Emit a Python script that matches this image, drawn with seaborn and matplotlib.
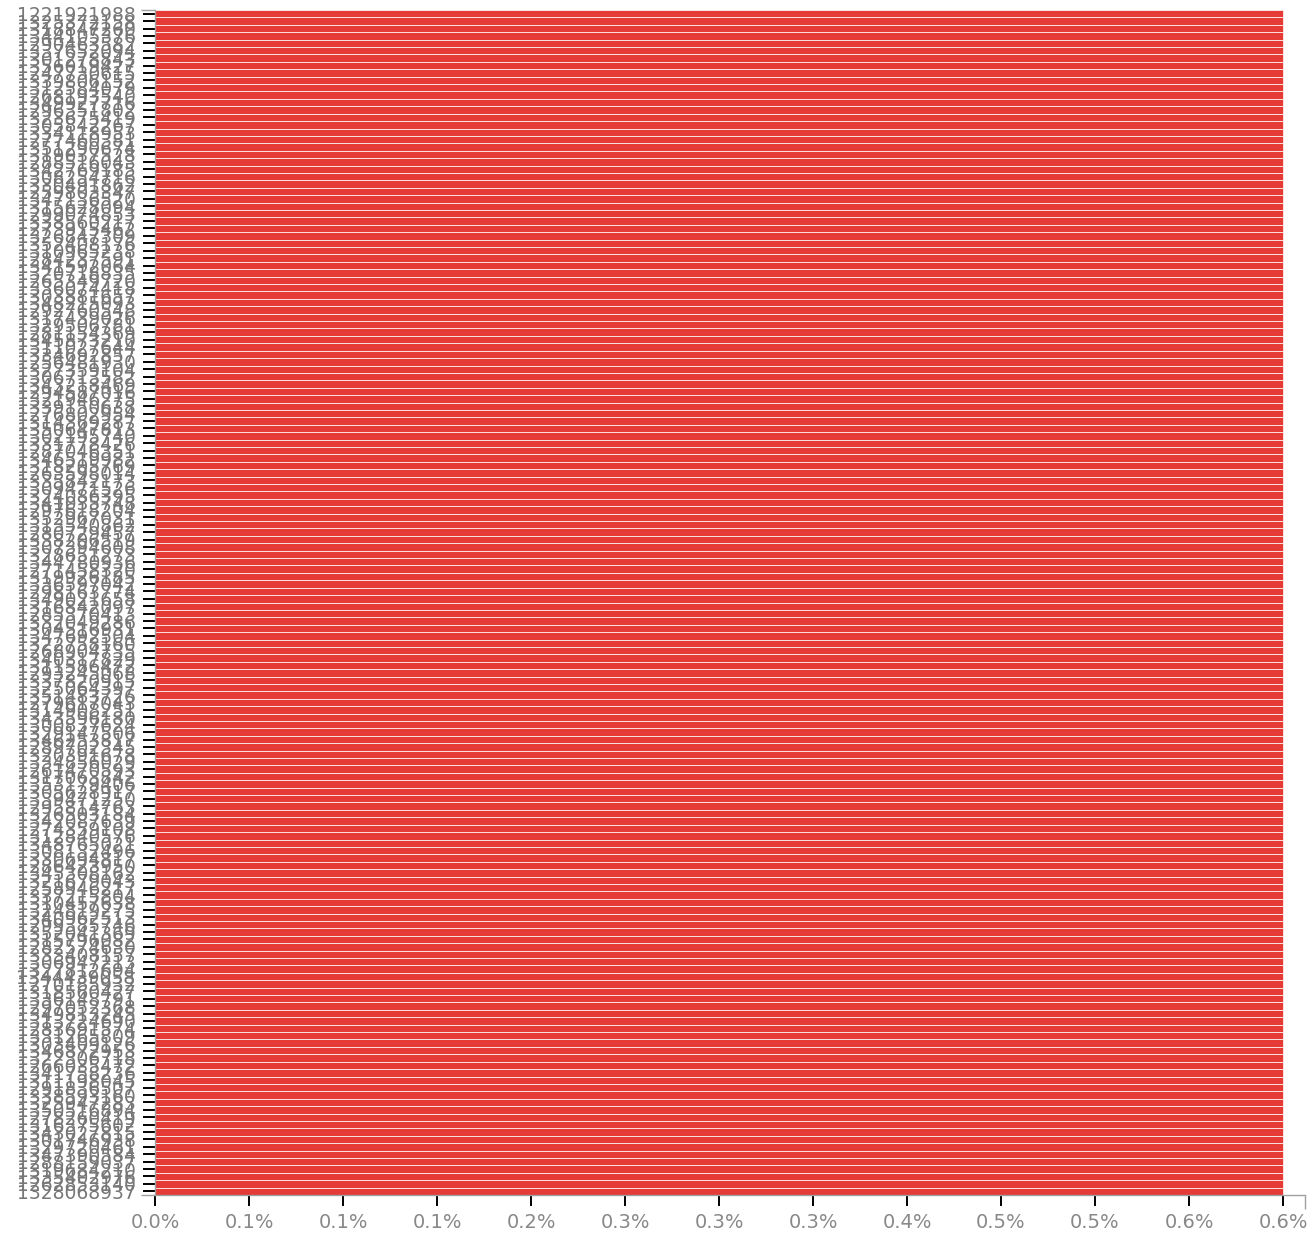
import matplotlib
matplotlib.use('Agg')
import matplotlib.pyplot as plt
import seaborn as sns
import pandas as pd

# ids on the y axis, top to bottom
ids = [
    '1221921988', '1325372158', '1318847260', '1344105376', '1290463582', '1337652094', '1301278843', '1356019427',
    '1247730615', '1339806152', '1312584079', '1268193540', '1349927716', '1296351802', '1323675419', '1305842267',
    '1334118953', '1277460381', '1351290674', '1319037528', '1288516043', '1342769185', '1308254716', '1330491862',
    '1259803347', '1347136520', '1315628094', '1299074853', '1338560217', '1273915462', '1326847309', '1352408176',
    '1310965238', '1284237591', '1341592064', '1320718835', '1265349720', '1336074418', '1303881657', '1348215093',
    '1292760548', '1317439026', '1329506781', '1281154369', '1345873210', '1311027644', '1334692857', '1256481930',
    '1327359104', '1306713582', '1343218469', '1294587016', '1321946275', '1339150638', '1276802954', '1314369287',
    '1350647813', '1302195740', '1331778426', '1287046351', '1346519982', '1318205769', '1263598014', '1335842173',
    '1309471526', '1324086395', '1341035748', '1297618204', '1352967031', '1313540862', '1280729457', '1338206519',
    '1307394608', '1328651273', '1344780936', '1271458320', '1319926185', '1336597042', '1298163774', '1349021658',
    '1316842097', '1285370413', '1332049286', '1304516931', '1347692504', '1322758160', '1268904735', '1340317829',
    '1311586472', '1293245068', '1337820915', '1325064397', '1351483726', '1279617043', '1314908251', '1343596180',
    '1300837624', '1329147506', '1346253817', '1289702345', '1320391678', '1334856029', '1261470593', '1317063842',
    '1353179406', '1305628917', '1339471250', '1295814763', '1326503184', '1342087639', '1274359108', '1312840576',
    '1348765021', '1308132496', '1330694817', '1286423950', '1345308162', '1321679043', '1258946217', '1337215804',
    '1310457638', '1324819275', '1340962513', '1299385746', '1352041369', '1315796082', '1282574630', '1333408157',
    '1306947213', '1327812694', '1344439058', '1270185932', '1318560427', '1336148791', '1297052368', '1349813245',
    '1313724690', '1283691574', '1331265809', '1303409126', '1346872953', '1322306718', '1266035472', '1341758236',
    '1311198045', '1291836507', '1338593160', '1325947283', '1350516894', '1278260419', '1316375602', '1343027815',
    '1301746938', '1329720461', '1347390584', '1288159037', '1319684210', '1335402976', '1262853140', '1328068937',
]
# every bar reads the same share (percent)
share = [0.6] * len(ids)

x_ticks = [0, 0.05, 0.1, 0.15, 0.2, 0.25, 0.3, 0.35, 0.4, 0.45, 0.5, 0.55, 0.6]
x_labels = ['0.0%', '0.1%', '0.1%', '0.1%', '0.2%', '0.3%', '0.3%', '0.3%',
            '0.4%', '0.5%', '0.5%', '0.6%', '0.6%']
x_max = 0.6117

df = pd.DataFrame({'id': ids, 'share': share})

sns.set_style('white')
plt.rcParams['font.family'] = ['DejaVu Sans']

fig = plt.figure(figsize=(13.14, 12.37), dpi=100)
ax = fig.add_axes([155 / 1314, 1 - 1195 / 1237, 1150 / 1314, 1185 / 1237])

sns.barplot(data=df, x='share', y='id', order=ids, orient='h', color='#e53a36',
            saturation=1, width=1.0, edgecolor='white', linewidth=0.5, ax=ax)

gray = '#a0a0a0'
ax.set_xlim(0, x_max)
ax.set_ylim(len(ids) - 0.5, -0.5)
ax.set_xticks(x_ticks)
ax.set_xticklabels(x_labels)
ax.set_xlabel('')
ax.set_ylabel('')

for s in ['top', 'right']:
    ax.spines[s].set_visible(False)
for s in ['left', 'bottom']:
    ax.spines[s].set_color(gray)
    ax.spines[s].set_linewidth(1)

ax.tick_params(axis='y', which='both', left=True)
ax.tick_params(axis='x', which='both', bottom=True)
ax.tick_params(axis='y', which='major', length=9, width=1.4, color='black',
               labelcolor='#777777', labelsize=13.5, pad=5)
ax.tick_params(axis='x', which='major', length=8, width=1.4, color='black',
               labelcolor='#888888', labelsize=14, pad=5)
ax.xaxis.get_major_ticks()[0].tick1line.set_color(gray)

# gray domain caps at the axis ends
ax.set_xticks([x_max], minor=True)
ax.set_yticks([-0.5, len(ids) - 0.5], minor=True)
ax.tick_params(axis='both', which='minor', length=10, width=1, color=gray)

fig.savefig('out.png', dpi=100)
